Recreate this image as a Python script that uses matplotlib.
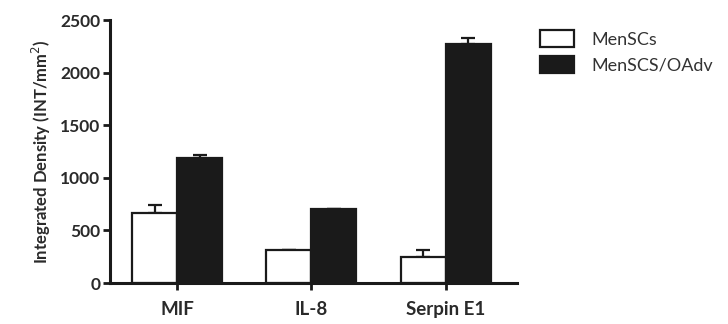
import matplotlib
matplotlib.use("Agg")
import matplotlib.pyplot as plt
import numpy as np

categories = ["MIF", "IL-8", "Serpin E1"]
series_names = ["MenSCs", "MenSCS/OAdv"]
mensc_vals = [665, 314, 250]
mensc_err = [76, 0, 64]
oadv_vals = [1185, 700, 2269]
oadv_err = [32, 0, 63]
yticks = [0, 500, 1000, 1500, 2000, 2500]

plt.rcParams['font.family'] = ['Lato', 'DejaVu Sans']

fig = plt.figure(figsize=(7.28, 3.24), dpi=100)
ax = fig.add_axes([0.151, 0.1265, 0.559, 0.8115])

x = np.arange(len(categories))
w = 0.335
lw = 1.6
dark = '#1a1a1a'
ax.bar(x - w/2, mensc_vals, w, color='white', edgecolor=dark, linewidth=lw,
       label=series_names[0], zorder=2)
ax.bar(x + w/2, oadv_vals, w, color=dark, edgecolor=dark, linewidth=lw,
       label=series_names[1], zorder=2)
ax.errorbar(x - w/2, mensc_vals, yerr=[np.zeros(3), mensc_err], fmt='none',
            ecolor=dark, elinewidth=1.6, capsize=5, capthick=1.6, zorder=1)
ax.errorbar(x + w/2, oadv_vals, yerr=[np.zeros(3), oadv_err], fmt='none',
            ecolor=dark, elinewidth=1.6, capsize=5, capthick=1.6, zorder=1)

ax.set_xlim(-0.5, 2.53)
ax.set_ylim(0, 2500)
ax.set_yticks(yticks)
ax.set_yticklabels([str(t) for t in yticks], fontsize=12.5, fontweight='bold', color='#2a2a2a')
ax.set_xticks(x)
ax.set_xticklabels(categories, fontsize=13.5, fontweight='bold', color='#2a2a2a')
for s in ['top', 'right']:
    ax.spines[s].set_visible(False)
for s in ['left', 'bottom']:
    ax.spines[s].set_linewidth(2.2)
    ax.spines[s].set_color(dark)
ax.tick_params(axis='both', width=2, length=5, color=dark)
ax.tick_params(axis='x', pad=8)
ax.tick_params(axis='y', pad=2)
ax.set_ylabel('Integrated Density (INT/mm$^2$)', fontsize=12, fontweight='bold',
              color='#2a2a2a', labelpad=5)

leg = ax.legend(loc='upper left', bbox_to_anchor=(1.04, 0.99), frameon=False,
                fontsize=13, handlelength=1.85, handleheight=1.1,
                labelspacing=0.45, handletextpad=0.95, borderaxespad=0)
for t in leg.get_texts():
    t.set_color('#333333')

fig.savefig('out.png', dpi=100)
